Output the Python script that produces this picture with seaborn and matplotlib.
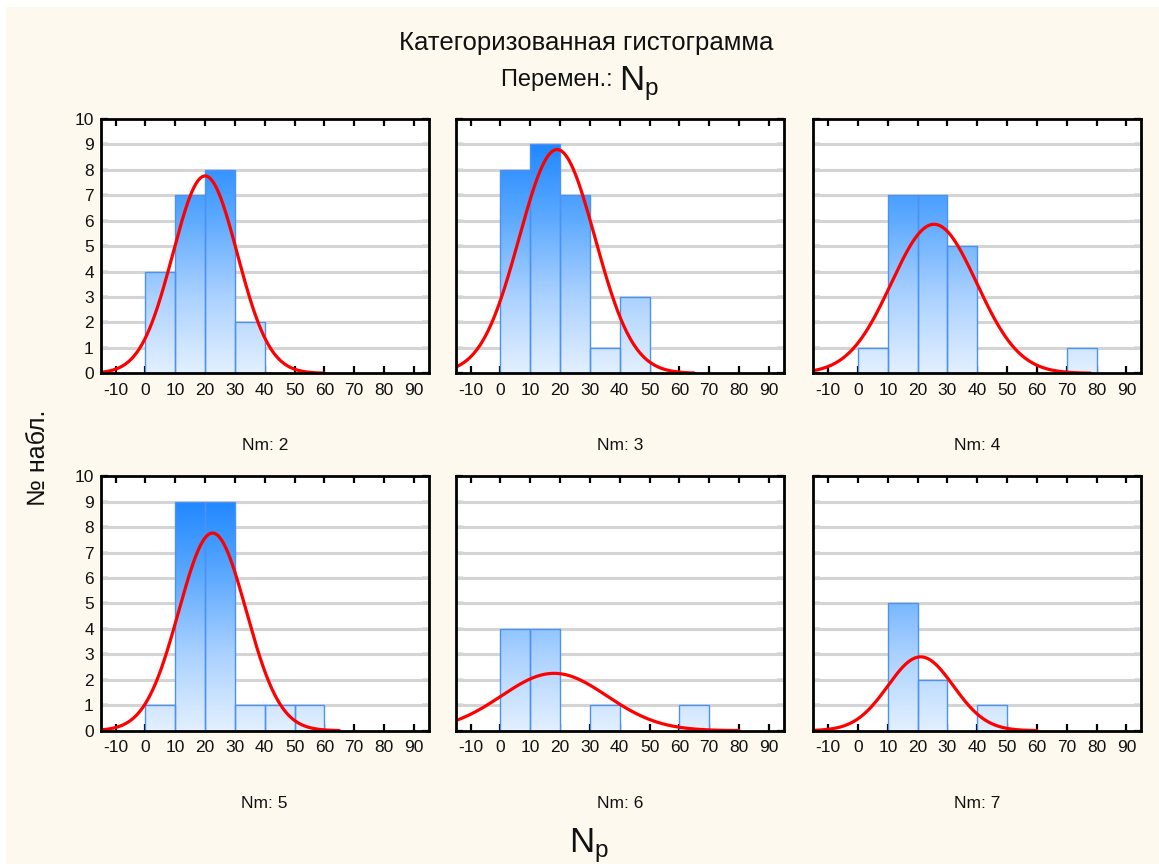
import numpy as np
import pandas as pd
import matplotlib
matplotlib.use("Agg")
import matplotlib.pyplot as plt
import seaborn as sns
from matplotlib.colors import LinearSegmentedColormap
from matplotlib.patches import Rectangle

# ---------------- data ----------------
bin_edges = [0, 10, 20, 30, 40, 50, 60, 70, 80]
groups = ["Nm: 2", "Nm: 3", "Nm: 4", "Nm: 5", "Nm: 6", "Nm: 7"]
counts_nm2 = [4, 7, 8, 2, 0, 0, 0, 0]
counts_nm3 = [8, 9, 7, 1, 3, 0, 0, 0]
counts_nm4 = [1, 7, 7, 5, 0, 0, 0, 1]
counts_nm5 = [1, 9, 9, 1, 1, 1, 0, 0]
counts_nm6 = [4, 4, 0, 1, 0, 0, 1, 0]
counts_nm7 = [0, 5, 2, 0, 1, 0, 0, 0]
all_counts = [counts_nm2, counts_nm3, counts_nm4, counts_nm5, counts_nm6, counts_nm7]
# fitted normal curve parameters
fit_mean = [20.0, 19.0, 25.5, 22.5, 18.0, 21.0]
fit_sd = [10.8, 12.7, 14.3, 11.3, 17.7, 11.0]
curve_end = [60, 65, 78, 65, 80, 60]
x_ticks = [-10, 0, 10, 20, 30, 40, 50, 60, 70, 80, 90]
y_ticks = [0, 1, 2, 3, 4, 5, 6, 7, 8, 9, 10]

title1 = "Категоризованная гистограмма"
title2 = "Перемен.:"
y_label = "№ набл."

# ---------------- style ----------------
sns.set_theme(style="white")
plt.rcParams["font.family"] = ["Liberation Sans", "DejaVu Sans"]
plt.rcParams["axes.unicode_minus"] = False
plt.rcParams["mathtext.fontset"] = "custom"
plt.rcParams["mathtext.rm"] = "Liberation Sans"
plt.rcParams["mathtext.it"] = "Liberation Sans:italic"

bg = "#FEF9EE"
fig = plt.figure(figsize=(11.59, 8.64), dpi=100)
fig.patch.set_facecolor("white")
fig.patches.append(Rectangle((6 / 1159, 0), 1 - 6 / 1159, 1 - 7 / 864,
                             transform=fig.transFigure, facecolor=bg,
                             edgecolor="none", zorder=-10))

cmap = LinearSegmentedColormap.from_list("blu", ["#E3F0FF", "#A8D0FF", "#5AA8FF", "#1A84FF"])
grad = np.linspace(0, 1, 256).reshape(-1, 1)

W, H = 0.2830, 0.2945
lefts = [0.0869, 0.3932, 0.7017]
bottoms = [0.5679, 0.1543]
txt = "#111111"

for i in range(6):
    r, c = divmod(i, 3)
    ax = fig.add_axes([lefts[c], bottoms[r], W, H])
    ax.set_facecolor("white")
    centers = [(bin_edges[k] + bin_edges[k + 1]) / 2 for k in range(len(bin_edges) - 1)]
    df = pd.DataFrame({"x": centers, "w": all_counts[i]})
    sns.histplot(data=df, x="x", weights="w", bins=bin_edges, ax=ax,
                 stat="count", fill=True, facecolor="none",
                 edgecolor="#4C92F2", linewidth=1.0, zorder=4)
    for p in ax.patches:
        if p.get_height() <= 0:
            p.set_visible(False)
            continue
        im = ax.imshow(grad, cmap=cmap, origin="lower", aspect="auto",
                       extent=[-15, 95, 0, 9.3], zorder=3, interpolation="bicubic")
        im.set_clip_path(p)
    # normal curve
    n = sum(all_counts[i])
    xs = np.linspace(-15, curve_end[i], 400)
    ys = n * 10 / (fit_sd[i] * np.sqrt(2 * np.pi)) * np.exp(-0.5 * ((xs - fit_mean[i]) / fit_sd[i]) ** 2)
    sns.lineplot(x=xs, y=ys, ax=ax, color="#FF0000", linewidth=2.3, zorder=5)

    ax.set_xlim(-15, 95)
    ax.set_ylim(0, 10)
    ax.set_xticks(x_ticks)
    ax.set_yticks(y_ticks)
    for yv in y_ticks[1:-1]:
        ax.axhline(yv, color="#D4D4D4", linewidth=2.2, zorder=1)
    ax.tick_params(axis="both", which="major", direction="in", length=5, width=1.6,
                   color="black", top=True, right=True, bottom=True, left=True,
                   labelsize=12.5, labelcolor=txt)
    ax.tick_params(axis="x", pad=7)
    ax.tick_params(axis="y", pad=5)
    if c != 0:
        ax.set_yticklabels([])
    for s in ax.spines.values():
        s.set_color("black")
        s.set_linewidth(2.0)
        s.set_zorder(6)
    ax.set_xlabel("")
    ax.set_ylabel("")
    ax.text(0.5, -0.285, groups[i], transform=ax.transAxes, ha="center", va="center",
            fontsize=12.5, color=txt)

fig.text(586 / 1159, 1 - 43 / 864, title1, ha="center", va="center", fontsize=18.5, color=txt)
fig.text(619 / 1159, 1 - 80 / 864, title2 + " ", ha="right", va="center", fontsize=17, color=txt)
fig.text(619 / 1159, 1 - 84 / 864, r"$\mathregular{N_p}$", ha="left", va="center", fontsize=25, color=txt)
fig.text(38 / 1159, 1 - 458 / 864, y_label, ha="center", va="center", rotation=90, fontsize=18, color=txt)
fig.text(589 / 1159, 1 - 846 / 864, r"$\mathregular{N_p}$", ha="center", va="center", fontsize=25, color=txt)

fig.savefig("out.png", dpi=100, facecolor=fig.get_facecolor())
